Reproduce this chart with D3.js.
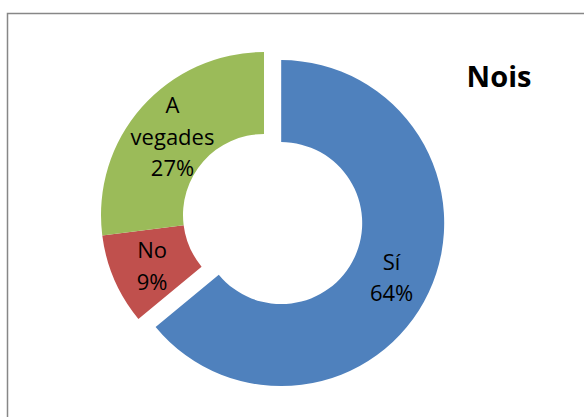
<!DOCTYPE html>
<html lang="ca">
<head>
  <meta charset="utf-8">
  <title>Nois</title>
  <script src="https://d3js.org/d3.v7.min.js"></script>
  <style>
    html, body { margin: 0; padding: 0; background: #fff; }
    text { font-family: "Open Sans", "Noto Sans", sans-serif; fill: #000; }
  </style>
</head>
<body>
  <div id="chart"></div>

  <script>
    "use strict";

    // dades del gràfic
    var categories = ["Sí", "No", "A vegades"];
    var valors = [64, 9, 27];
    var titol = "Nois";

    var colors = ["#4F81BD", "#C0504D", "#9BBB59"];
    var separacio = [19, 0, 0]; // porcions desplaçades

    var amplada = 584, alcada = 417;
    var centre = {x: 264, y: 215};
    var radiExt = 163, radiInt = 81;

    var svg = d3.select("#chart")
      .append("svg")
        .attr("width", amplada)
        .attr("height", alcada);

    // vora del gràfic
    svg.append("rect")
      .attr("x", 7.5).attr("y", 13.5)
      .attr("width", 620).attr("height", 440)
      .attr("fill", "none")
      .attr("stroke", "#878787")
      .attr("stroke-width", 1.5);

    var dades = categories.map(function(c, i) { return {cat: c, val: valors[i], idx: i}; });
    var total = d3.sum(valors);
    var pct = d3.format(".0%");

    var pie = d3.pie().sort(null).value(function(d) { return d.val; });
    var arc = d3.arc().innerRadius(radiInt).outerRadius(radiExt);
    var arcEtiqueta = d3.arc().innerRadius(122).outerRadius(122);

    var color = d3.scaleOrdinal().domain(categories).range(colors);

    var g = svg.append("g")
      .attr("transform", "translate(" + centre.x + "," + centre.y + ")");

    var porcions = g.selectAll(".porcio")
      .data(pie(dades))
      .enter()
      .append("g")
        .attr("class", "porcio")
        .attr("transform", function(d) {
          var a = (d.startAngle + d.endAngle) / 2;
          var s = separacio[d.data.idx];
          return "translate(" + (Math.sin(a) * s) + "," + (-Math.cos(a) * s) + ")";
        });

    porcions.append("path")
      .attr("d", arc)
      .attr("fill", function(d) { return color(d.data.cat); });

    // etiquetes: categoria (paraula per línia) + percentatge
    var interlinia = 31.5;
    porcions.append("text")
      .attr("text-anchor", "middle")
      .style("font-size", "22px")
      .each(function(d) {
        var linies = d.data.cat.split(" ").concat([pct(d.data.val / total)]);
        var c = arcEtiqueta.centroid(d);
        var y0 = c[1] - (linies.length - 1) * interlinia / 2 + 10.5;
        var t = d3.select(this);
        linies.forEach(function(l, i) {
          t.append("tspan")
            .attr("x", c[0])
            .attr("y", y0 + i * interlinia)
            .text(l);
        });
      });

    // títol
    svg.append("text")
      .attr("x", 499)
      .attr("y", 87)
      .attr("text-anchor", "middle")
      .style("font-size", "29px")
      .style("font-weight", "bold")
      .text(titol);
  </script>
</body>
</html>
